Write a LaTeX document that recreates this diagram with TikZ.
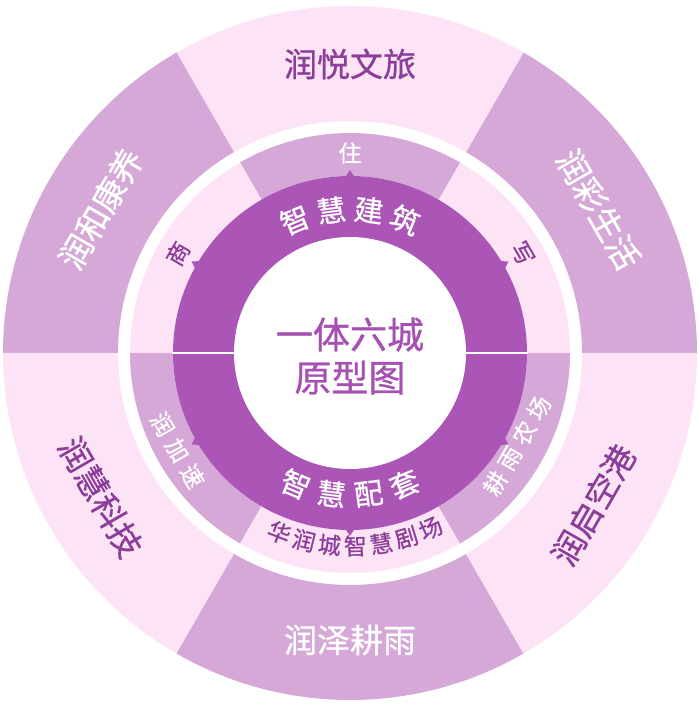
\documentclass[tikz,border=0pt]{standalone}
\usepackage{fontspec}
\setmainfont{Noto Sans CJK SC}[FakeBold=0.8]
\usepackage{tikz}

\definecolor{ringmid}{HTML}{D5A8D7}
\definecolor{ringlight}{HTML}{FCE4F6}
\definecolor{ringpurple}{HTML}{AB56B6}
\definecolor{textdark}{HTML}{8B3D99}
\definecolor{textcenter}{HTML}{A550B2}

\tikzset{
  outerlabel/.style={inner sep=0pt, font=\fontsize{33}{33}\selectfont},
  midlabel/.style={inner sep=0pt, font=\fontsize{23}{23}\selectfont},
  ringchar/.style={inner sep=0pt, white, font=\fontsize{29}{29}\selectfont},
}

\begin{document}
\begin{tikzpicture}[x=1pt,y=1pt]
    \useasboundingbox (-350,-353) rectangle (350,353);

    % outer ring
    \foreach \a/\c in {0/ringmid,60/ringlight,120/ringmid,180/ringlight,240/ringmid,300/ringlight}
      \fill[\c] (\a:232pt) arc[start angle=\a, delta angle=60, radius=232pt]
        -- (\a+60:347pt) arc[start angle=\a+60, delta angle=-60, radius=347pt] -- cycle;

    % middle ring
    \foreach \a/\c in {0/ringlight,60/ringmid,120/ringlight,180/ringmid,240/ringlight,300/ringmid}
      \fill[\c] (\a:177pt) arc[start angle=\a, delta angle=60, radius=177pt]
        -- (\a+60:220pt) arc[start angle=\a+60, delta angle=-60, radius=220pt] -- cycle;

    % purple ring with pointers
    \fill[ringpurple] (0,0) circle[radius=177pt];
    \foreach \a in {30,90,...,330}
      \fill[ringpurple] (\a-1.5:176pt) -- (\a:183pt) -- (\a+1.5:176pt) -- cycle;
    \draw[white,line width=2pt] (-178pt,0)--(-110pt,0) (110pt,0)--(178pt,0);
    \fill[white] (0,0) circle[radius=116pt];

    \node[inner sep=0pt,textcenter,align=center,font=\fontsize{37}{43}\selectfont] (title) at (0,-3) {一体六城\\原型图};

    % inner ring texts
    \foreach \a/\ch [count=\i] in {112.5/智,97.5/慧,82.5/建,67.5/筑}
      \node[ringchar,rotate=\a-90] (top\i) at (\a:144pt) {\ch};
    \foreach \a/\ch [count=\i] in {247.5/智,262.5/慧,277.5/配,292.5/套}
      \node[ringchar,rotate=\a-270] (bot\i) at (\a:142pt) {\ch};

    % middle ring texts
    \node[midlabel,white] (zhu) at (90:200pt) {住};
    \node[midlabel,textdark,rotate=60] (shang) at (150:199pt) {商};
    \node[midlabel,textdark,rotate=-60] (xie) at (30:199pt) {写};
    \node[midlabel,white,rotate=-60] (jiasu) at (209.4:198pt) {润\hspace{7pt}加\hspace{7pt}速};
    \node[midlabel,white,rotate=60] (nongchang) at (331:191pt) {耕\hspace{6pt}雨\hspace{6pt}农\hspace{6pt}场};
    \foreach \a/\ch [count=\i] in {248.5/华,256.2/润,263.9/城,271.6/智,279.3/慧,287.0/剧,294.7/场}
      \node[midlabel,textdark,rotate=\a-270] (juchang\i) at (\a:193pt) {\ch};

    % outer ring texts
    \node[outerlabel,textdark] (wenlv) at (90:289pt) {润悦文旅};
    \node[outerlabel,white,rotate=-60] (shenghuo) at (30:287pt) {润彩生活};
    \node[outerlabel,white,rotate=60] (kangyang) at (150:288pt) {润和康养};
    \node[outerlabel,textdark,rotate=-60] (keji) at (210:288pt) {润慧科技};
    \node[outerlabel,white] (gengyu) at (270:287pt) {润泽耕雨};
    \node[outerlabel,textdark,rotate=60] (konggang) at (328:287pt) {润启空港};
\end{tikzpicture}
\end{document}
